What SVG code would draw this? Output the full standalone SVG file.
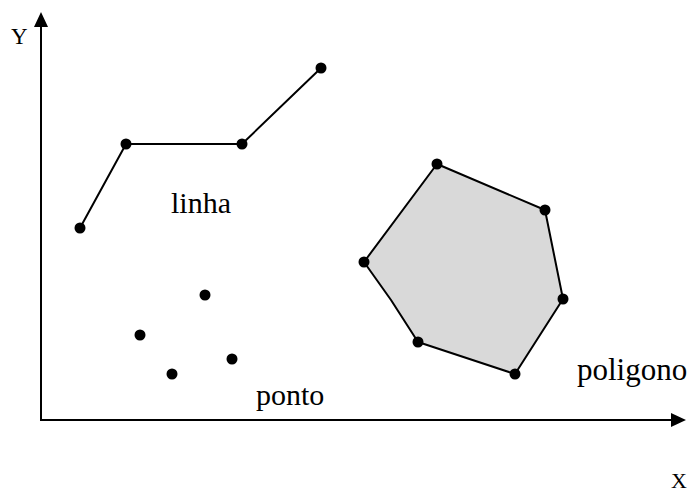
<svg xmlns="http://www.w3.org/2000/svg" width="693" height="494" viewBox="0 0 693 494">
<style>
.ln{fill:none;stroke:#000;stroke-width:2}
.pt{fill:#000}
</style>
<rect width="693" height="494" fill="#fff"/>
<g id="axes">
<line class="ln" x1="41" y1="421" x2="41" y2="26"/>
<line class="ln" x1="40" y1="420" x2="672" y2="420"/>
<polygon points="41,12 34,27 48,27" fill="#000"/>
<polygon points="686,420 671,413 671,427" fill="#000"/>
<text x="11" y="44" font-family="'Liberation Serif', 'Times New Roman', serif" font-size="23" fill="#000">Y</text>
<text x="671" y="488" font-family="'Liberation Serif', 'Times New Roman', serif" font-size="22" fill="#000">X</text>
</g>
<g id="linha">
<polyline class="ln" points="80,228 126,144 242,144 321,68"/>
<circle class="pt" cx="80" cy="228" r="5.5"/>
<circle class="pt" cx="126" cy="144" r="5.5"/>
<circle class="pt" cx="242" cy="144" r="5.5"/>
<circle class="pt" cx="321" cy="68" r="5.5"/>
<text x="171" y="213" font-family="'Liberation Serif', 'Times New Roman', serif" font-size="30" fill="#000">linha</text>
</g>
<g id="ponto">
<circle class="pt" cx="205" cy="295" r="5.5"/>
<circle class="pt" cx="140" cy="335" r="5.5"/>
<circle class="pt" cx="172" cy="374" r="5.5"/>
<circle class="pt" cx="232" cy="359" r="5.5"/>
<text x="256" y="405" font-family="'Liberation Serif', 'Times New Roman', serif" font-size="30" fill="#000">ponto</text>
</g>
<g id="poligono">
<polygon points="437,164 545,210 563,299 515,374 418,342 391,300 364,262" fill="#d9d9d9" stroke="#000" stroke-width="2" stroke-linejoin="round"/>
<circle class="pt" cx="437" cy="164" r="5.5"/>
<circle class="pt" cx="545" cy="210" r="5.5"/>
<circle class="pt" cx="563" cy="299" r="5.5"/>
<circle class="pt" cx="515" cy="374" r="5.5"/>
<circle class="pt" cx="418" cy="342" r="5.5"/>
<circle class="pt" cx="364" cy="262" r="5.5"/>
<text x="577" y="380" font-family="'Liberation Serif', 'Times New Roman', serif" font-size="31" fill="#000">poligono</text>
</g>
</svg>
